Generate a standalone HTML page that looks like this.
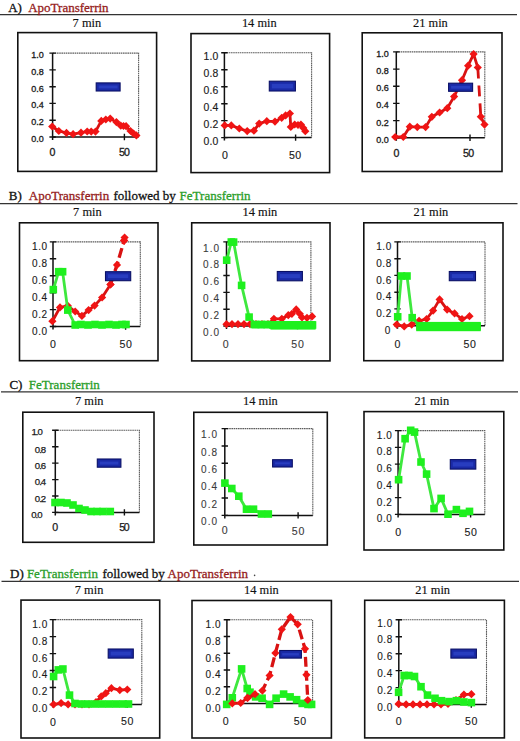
<!DOCTYPE html><html><head><meta charset="utf-8"><style>html,body{margin:0;padding:0;background:#fff;}svg{display:block}</style></head><body>
<svg width="520" height="741" viewBox="0 0 520 741">
<rect width="520" height="741" fill="#fff"/>
<path d="M0 14.6 H517" stroke="#333" stroke-width="1.25"/>
<text x="8.2" y="12.2" fill="#111" stroke="#111" stroke-width="0.3" style="font-size:13px;font-family:'Liberation Serif',serif">A)</text>
<text x="28.2" y="12.2" fill="#951c1c" stroke="#951c1c" stroke-width="0.3" style="font-size:13px;font-family:'Liberation Serif',serif">ApoTransferrin</text>
<path d="M0 203.7 H517.5" stroke="#333" stroke-width="1.25"/>
<text x="8.8" y="200.4" fill="#111" stroke="#111" stroke-width="0.3" style="font-size:13px;font-family:'Liberation Serif',serif">B)</text>
<text x="28.8" y="200.4" fill="#951c1c" stroke="#951c1c" stroke-width="0.3" style="font-size:13px;font-family:'Liberation Serif',serif">ApoTransferrin</text>
<text x="113.4" y="200.4" fill="#111" stroke="#111" stroke-width="0.3" style="font-size:13px;font-family:'Liberation Serif',serif">followed by</text>
<text x="179.6" y="200.4" fill="#2a9e2a" stroke="#2a9e2a" stroke-width="0.3" style="font-size:13px;font-family:'Liberation Serif',serif">FeTransferrin</text>
<path d="M1 391.8 H518" stroke="#333" stroke-width="1.25"/>
<text x="9.4" y="388.6" fill="#111" stroke="#111" stroke-width="0.3" style="font-size:13px;font-family:'Liberation Serif',serif">C)</text>
<text x="28.8" y="388.6" fill="#2a9e2a" stroke="#2a9e2a" stroke-width="0.3" style="font-size:13px;font-family:'Liberation Serif',serif">FeTransferrin</text>
<path d="M1.5 581.4 H519" stroke="#333" stroke-width="1.25"/>
<text x="10.0" y="577.6" fill="#111" stroke="#111" stroke-width="0.3" style="font-size:13px;font-family:'Liberation Serif',serif">D)</text>
<text x="26.9" y="577.6" fill="#2a9e2a" stroke="#2a9e2a" stroke-width="0.3" style="font-size:13px;font-family:'Liberation Serif',serif">FeTransferrin</text>
<text x="102.4" y="577.6" fill="#111" stroke="#111" stroke-width="0.3" style="font-size:13px;font-family:'Liberation Serif',serif">followed by</text>
<text x="167.6" y="577.6" fill="#951c1c" stroke="#951c1c" stroke-width="0.3" style="font-size:13px;font-family:'Liberation Serif',serif">ApoTransferrin</text>
<text x="72.6" y="26.6" fill="#111" stroke="#111" stroke-width="0.15" style="font-size:12.4px;font-family:'Liberation Serif',serif">7 min</text>
<text x="241.9" y="26.9" fill="#111" stroke="#111" stroke-width="0.15" style="font-size:12.4px;font-family:'Liberation Serif',serif">14 min</text>
<text x="413.0" y="26.8" fill="#111" stroke="#111" stroke-width="0.15" style="font-size:12.4px;font-family:'Liberation Serif',serif">21 min</text>
<text x="73.1" y="216.0" fill="#111" stroke="#111" stroke-width="0.15" style="font-size:12.4px;font-family:'Liberation Serif',serif">7 min</text>
<text x="242.5" y="216.0" fill="#111" stroke="#111" stroke-width="0.15" style="font-size:12.4px;font-family:'Liberation Serif',serif">14 min</text>
<text x="413.5" y="216.0" fill="#111" stroke="#111" stroke-width="0.15" style="font-size:12.4px;font-family:'Liberation Serif',serif">21 min</text>
<text x="75.0" y="404.8" fill="#111" stroke="#111" stroke-width="0.15" style="font-size:12.4px;font-family:'Liberation Serif',serif">7 min</text>
<text x="243.0" y="404.8" fill="#111" stroke="#111" stroke-width="0.15" style="font-size:12.4px;font-family:'Liberation Serif',serif">14 min</text>
<text x="414.4" y="404.8" fill="#111" stroke="#111" stroke-width="0.15" style="font-size:12.4px;font-family:'Liberation Serif',serif">21 min</text>
<text x="74.8" y="593.6" fill="#111" stroke="#111" stroke-width="0.15" style="font-size:12.4px;font-family:'Liberation Serif',serif">7 min</text>
<text x="244.0" y="593.6" fill="#111" stroke="#111" stroke-width="0.15" style="font-size:12.4px;font-family:'Liberation Serif',serif">14 min</text>
<text x="415.3" y="593.6" fill="#111" stroke="#111" stroke-width="0.15" style="font-size:12.4px;font-family:'Liberation Serif',serif">21 min</text>
<circle cx="254.6" cy="575.4" r="0.8" fill="#444"/>
<rect x="17.8" y="32.6" width="138.8" height="138.8" fill="none" stroke="#111" stroke-width="1.6"/>
<path d="M52.6 53.1 H138.6 V137.0" fill="none" stroke="#5c5c5c" stroke-width="1.1" stroke-dasharray="1.6 0.6"/>
<path d="M52.6 53.1 V140.0 M52.6 137.0 H138.6" fill="none" stroke="#111" stroke-width="1.5"/>
<path d="M49.4 137.0 H55.8 M49.4 120.2 H55.8 M49.4 103.4 H55.8 M49.4 86.7 H55.8 M49.4 69.9 H55.8 M49.4 53.1 H55.8 M124.4 133.8 V140.2" fill="none" stroke="#111" stroke-width="1.4"/>
<text x="43.8" y="142.0" text-anchor="end" fill="#1a1a1a" stroke="#1a1a1a" stroke-width="0.3" style="font-size:9px;font-family:'Liberation Sans',sans-serif">0.0</text>
<text x="43.8" y="125.2" text-anchor="end" fill="#1a1a1a" stroke="#1a1a1a" stroke-width="0.3" style="font-size:9px;font-family:'Liberation Sans',sans-serif">0.2</text>
<text x="43.8" y="108.4" text-anchor="end" fill="#1a1a1a" stroke="#1a1a1a" stroke-width="0.3" style="font-size:9px;font-family:'Liberation Sans',sans-serif">0.4</text>
<text x="43.8" y="91.7" text-anchor="end" fill="#1a1a1a" stroke="#1a1a1a" stroke-width="0.3" style="font-size:9px;font-family:'Liberation Sans',sans-serif">0.6</text>
<text x="43.8" y="74.9" text-anchor="end" fill="#1a1a1a" stroke="#1a1a1a" stroke-width="0.3" style="font-size:9px;font-family:'Liberation Sans',sans-serif">0.8</text>
<text x="43.8" y="58.1" text-anchor="end" fill="#1a1a1a" stroke="#1a1a1a" stroke-width="0.3" style="font-size:9px;font-family:'Liberation Sans',sans-serif">1.0</text>
<text x="52.2" y="155.8" text-anchor="middle" fill="#1a1a1a" stroke="#1a1a1a" stroke-width="0.3" style="font-size:10.6px;letter-spacing:-0.7px;font-family:'Liberation Sans',sans-serif">0</text>
<text x="124.1" y="155.8" text-anchor="middle" fill="#1a1a1a" stroke="#1a1a1a" stroke-width="0.3" style="font-size:10.6px;letter-spacing:-0.7px;font-family:'Liberation Sans',sans-serif">50</text>
<path d="M52.2,126.5 L58.8,131 L66.5,132.9 L73.1,134.2 L81,132.7 L87.2,131.5 L91.2,131.6 L95.5,131.6 L101.3,120.9 L105.8,119.5 L110.2,118.6 L116.4,122.1 L120.8,125.7 L123.5,126.0 L126.1,126.2 L130.5,131 L133.5,133.5 L136.4,135.4" fill="none" stroke="#d81212" stroke-width="2.8" stroke-linejoin="round"/>
<path d="M48.1 126.5 L52.2 122.4 L56.3 126.5 L52.2 130.6Z" fill="#f01414"/>
<path d="M54.7 131 L58.8 126.9 L62.9 131 L58.8 135.1Z" fill="#f01414"/>
<path d="M62.4 132.9 L66.5 128.8 L70.6 132.9 L66.5 137.0Z" fill="#f01414"/>
<path d="M69.0 134.2 L73.1 130.1 L77.2 134.2 L73.1 138.3Z" fill="#f01414"/>
<path d="M76.9 132.7 L81 128.6 L85.1 132.7 L81 136.8Z" fill="#f01414"/>
<path d="M83.1 131.5 L87.2 127.4 L91.3 131.5 L87.2 135.6Z" fill="#f01414"/>
<path d="M87.1 131.6 L91.2 127.5 L95.3 131.6 L91.2 135.7Z" fill="#f01414"/>
<path d="M91.4 131.6 L95.5 127.5 L99.6 131.6 L95.5 135.7Z" fill="#f01414"/>
<path d="M97.2 120.9 L101.3 116.8 L105.4 120.9 L101.3 125.0Z" fill="#f01414"/>
<path d="M101.7 119.5 L105.8 115.4 L109.9 119.5 L105.8 123.6Z" fill="#f01414"/>
<path d="M106.1 118.6 L110.2 114.5 L114.3 118.6 L110.2 122.7Z" fill="#f01414"/>
<path d="M112.3 122.1 L116.4 118.0 L120.5 122.1 L116.4 126.2Z" fill="#f01414"/>
<path d="M116.7 125.7 L120.8 121.6 L124.9 125.7 L120.8 129.8Z" fill="#f01414"/>
<path d="M119.4 126.0 L123.5 121.9 L127.6 126.0 L123.5 130.1Z" fill="#f01414"/>
<path d="M122.0 126.2 L126.1 122.1 L130.2 126.2 L126.1 130.3Z" fill="#f01414"/>
<path d="M126.4 131 L130.5 126.9 L134.6 131 L130.5 135.1Z" fill="#f01414"/>
<path d="M129.4 133.5 L133.5 129.4 L137.6 133.5 L133.5 137.6Z" fill="#f01414"/>
<path d="M132.3 135.4 L136.4 131.3 L140.5 135.4 L136.4 139.5Z" fill="#f01414"/>
<rect x="96.2" y="82.9" width="23.9" height="8.1" fill="#1a2aa6" stroke="#0a1066" stroke-width="1.1"/>
<rect x="98.7" y="85.5" width="18.9" height="2.9" fill="#3a55dd" opacity="0.45"/>
<rect x="191.0" y="33.6" width="138.6" height="139.0" fill="none" stroke="#111" stroke-width="1.6"/>
<path d="M224.4 52.8 H311.6 V137.6" fill="none" stroke="#5c5c5c" stroke-width="1.1" stroke-dasharray="1.6 0.6"/>
<path d="M224.4 52.8 V140.6 M224.4 137.6 H311.6" fill="none" stroke="#111" stroke-width="1.5"/>
<path d="M221.2 137.6 H227.6 M221.2 120.6 H227.6 M221.2 103.7 H227.6 M221.2 86.7 H227.6 M221.2 69.8 H227.6 M221.2 52.8 H227.6 M295.6 134.4 V140.8" fill="none" stroke="#111" stroke-width="1.4"/>
<text x="218.6" y="145.2" text-anchor="end" fill="#1a1a1a" stroke="#1a1a1a" stroke-width="0.15" style="font-size:10.4px;letter-spacing:0.25px;font-family:'Liberation Sans',sans-serif">0.0</text>
<text x="218.6" y="128.2" text-anchor="end" fill="#1a1a1a" stroke="#1a1a1a" stroke-width="0.15" style="font-size:10.4px;letter-spacing:0.25px;font-family:'Liberation Sans',sans-serif">0.2</text>
<text x="218.6" y="111.3" text-anchor="end" fill="#1a1a1a" stroke="#1a1a1a" stroke-width="0.15" style="font-size:10.4px;letter-spacing:0.25px;font-family:'Liberation Sans',sans-serif">0.4</text>
<text x="218.6" y="94.3" text-anchor="end" fill="#1a1a1a" stroke="#1a1a1a" stroke-width="0.15" style="font-size:10.4px;letter-spacing:0.25px;font-family:'Liberation Sans',sans-serif">0.6</text>
<text x="218.6" y="77.4" text-anchor="end" fill="#1a1a1a" stroke="#1a1a1a" stroke-width="0.15" style="font-size:10.4px;letter-spacing:0.25px;font-family:'Liberation Sans',sans-serif">0.8</text>
<text x="218.6" y="60.4" text-anchor="end" fill="#1a1a1a" stroke="#1a1a1a" stroke-width="0.15" style="font-size:10.4px;letter-spacing:0.25px;font-family:'Liberation Sans',sans-serif">1.0</text>
<text x="225.2" y="158.8" text-anchor="middle" fill="#1a1a1a" stroke="#1a1a1a" stroke-width="0.15" style="font-size:10.6px;letter-spacing:0.3px;font-family:'Liberation Sans',sans-serif">0</text>
<text x="295.3" y="158.8" text-anchor="middle" fill="#1a1a1a" stroke="#1a1a1a" stroke-width="0.15" style="font-size:10.6px;letter-spacing:0.3px;font-family:'Liberation Sans',sans-serif">50</text>
<path d="M224.7,125.4 L231.3,125.4 L239.3,128.5 L247.2,131.1 L253.9,130.7 L259.2,123.6 L266.8,121.2 L275,121.6 L281.7,117.8 L285.6,115.4 L289.9,113.5 L290.8,126.9 L294.7,124.5 L298,125 L300.9,124.5 L303.3,127.9 L305.3,131.2" fill="none" stroke="#d81212" stroke-width="2.8" stroke-linejoin="round"/>
<path d="M220.6 125.4 L224.7 121.3 L228.8 125.4 L224.7 129.5Z" fill="#f01414"/>
<path d="M227.2 125.4 L231.3 121.3 L235.4 125.4 L231.3 129.5Z" fill="#f01414"/>
<path d="M235.2 128.5 L239.3 124.4 L243.4 128.5 L239.3 132.6Z" fill="#f01414"/>
<path d="M243.1 131.1 L247.2 127.0 L251.3 131.1 L247.2 135.2Z" fill="#f01414"/>
<path d="M249.8 130.7 L253.9 126.6 L258.0 130.7 L253.9 134.8Z" fill="#f01414"/>
<path d="M255.1 123.6 L259.2 119.5 L263.3 123.6 L259.2 127.7Z" fill="#f01414"/>
<path d="M262.7 121.2 L266.8 117.1 L270.9 121.2 L266.8 125.3Z" fill="#f01414"/>
<path d="M270.9 121.6 L275 117.5 L279.1 121.6 L275 125.7Z" fill="#f01414"/>
<path d="M277.6 117.8 L281.7 113.7 L285.8 117.8 L281.7 121.9Z" fill="#f01414"/>
<path d="M281.5 115.4 L285.6 111.3 L289.7 115.4 L285.6 119.5Z" fill="#f01414"/>
<path d="M285.8 113.5 L289.9 109.4 L294.0 113.5 L289.9 117.6Z" fill="#f01414"/>
<path d="M286.7 126.9 L290.8 122.8 L294.9 126.9 L290.8 131.0Z" fill="#f01414"/>
<path d="M290.6 124.5 L294.7 120.4 L298.8 124.5 L294.7 128.6Z" fill="#f01414"/>
<path d="M293.9 125 L298 120.9 L302.1 125 L298 129.1Z" fill="#f01414"/>
<path d="M296.8 124.5 L300.9 120.4 L305.0 124.5 L300.9 128.6Z" fill="#f01414"/>
<path d="M299.2 127.9 L303.3 123.8 L307.4 127.9 L303.3 132.0Z" fill="#f01414"/>
<path d="M301.2 131.2 L305.3 127.1 L309.4 131.2 L305.3 135.3Z" fill="#f01414"/>
<rect x="269.3" y="81.2" width="26.1" height="9.8" fill="#1a2aa6" stroke="#0a1066" stroke-width="1.1"/>
<rect x="271.8" y="83.8" width="21.1" height="4.6" fill="#3a55dd" opacity="0.45"/>
<rect x="362.2" y="32.8" width="139.8" height="138.7" fill="none" stroke="#111" stroke-width="1.6"/>
<path d="M396.3 51.9 H484.8 V137.8" fill="none" stroke="#5c5c5c" stroke-width="1.1" stroke-dasharray="1.6 0.6"/>
<path d="M396.3 51.9 V140.8 M396.3 137.8 H484.8" fill="none" stroke="#111" stroke-width="1.5"/>
<path d="M393.1 137.8 H399.5 M393.1 120.6 H399.5 M393.1 103.4 H399.5 M393.1 86.3 H399.5 M393.1 69.1 H399.5 M393.1 51.9 H399.5 M470.0 134.6 V141.0" fill="none" stroke="#111" stroke-width="1.4"/>
<text x="388.8" y="142.8" text-anchor="end" fill="#1a1a1a" stroke="#1a1a1a" stroke-width="0.3" style="font-size:9px;font-family:'Liberation Sans',sans-serif">0.0</text>
<text x="388.8" y="125.6" text-anchor="end" fill="#1a1a1a" stroke="#1a1a1a" stroke-width="0.3" style="font-size:9px;font-family:'Liberation Sans',sans-serif">0.2</text>
<text x="388.8" y="108.4" text-anchor="end" fill="#1a1a1a" stroke="#1a1a1a" stroke-width="0.3" style="font-size:9px;font-family:'Liberation Sans',sans-serif">0.4</text>
<text x="388.8" y="91.3" text-anchor="end" fill="#1a1a1a" stroke="#1a1a1a" stroke-width="0.3" style="font-size:9px;font-family:'Liberation Sans',sans-serif">0.6</text>
<text x="388.8" y="74.1" text-anchor="end" fill="#1a1a1a" stroke="#1a1a1a" stroke-width="0.3" style="font-size:9px;font-family:'Liberation Sans',sans-serif">0.8</text>
<text x="388.8" y="56.9" text-anchor="end" fill="#1a1a1a" stroke="#1a1a1a" stroke-width="0.3" style="font-size:9px;font-family:'Liberation Sans',sans-serif">1.0</text>
<text x="396.1" y="156.8" text-anchor="middle" fill="#1a1a1a" stroke="#1a1a1a" stroke-width="0.3" style="font-size:10.6px;letter-spacing:-0.7px;font-family:'Liberation Sans',sans-serif">0</text>
<text x="468.3" y="156.8" text-anchor="middle" fill="#1a1a1a" stroke="#1a1a1a" stroke-width="0.3" style="font-size:10.6px;letter-spacing:-0.7px;font-family:'Liberation Sans',sans-serif">50</text>
<path d="M395.2,137 L403.3,137 L409.8,126.7 L417.3,127.1 L425.6,127.1 L431.8,116.8 L439.6,112.5 L447.3,108.2 L454.1,96.6 L462,80.2 L468.1,65.7 L473.6,54.1 L477.8,67.5" fill="none" stroke="#d81212" stroke-width="2.8" stroke-linejoin="round"/>
<path d="M391.1 137 L395.2 132.9 L399.3 137 L395.2 141.1Z" fill="#f01414"/>
<path d="M399.2 137 L403.3 132.9 L407.4 137 L403.3 141.1Z" fill="#f01414"/>
<path d="M405.7 126.7 L409.8 122.6 L413.9 126.7 L409.8 130.8Z" fill="#f01414"/>
<path d="M413.2 127.1 L417.3 123.0 L421.4 127.1 L417.3 131.2Z" fill="#f01414"/>
<path d="M421.5 127.1 L425.6 123.0 L429.7 127.1 L425.6 131.2Z" fill="#f01414"/>
<path d="M427.7 116.8 L431.8 112.7 L435.9 116.8 L431.8 120.9Z" fill="#f01414"/>
<path d="M435.5 112.5 L439.6 108.4 L443.7 112.5 L439.6 116.6Z" fill="#f01414"/>
<path d="M443.2 108.2 L447.3 104.1 L451.4 108.2 L447.3 112.3Z" fill="#f01414"/>
<path d="M450.0 96.6 L454.1 92.5 L458.2 96.6 L454.1 100.7Z" fill="#f01414"/>
<path d="M457.9 80.2 L462 76.1 L466.1 80.2 L462 84.3Z" fill="#f01414"/>
<path d="M464.0 65.7 L468.1 61.6 L472.2 65.7 L468.1 69.8Z" fill="#f01414"/>
<path d="M469.5 54.1 L473.6 50.0 L477.7 54.1 L473.6 58.2Z" fill="#f01414"/>
<path d="M473.7 67.5 L477.8 63.4 L481.9 67.5 L477.8 71.6Z" fill="#f01414"/>
<path d="M477.8,67.5 L480.8,116.7" fill="none" stroke="#d81212" stroke-width="2.8" stroke-linejoin="round" stroke-dasharray="11 7"/>
<path d="M480.8,116.7 L484.5,124.6" fill="none" stroke="#d81212" stroke-width="2.8" stroke-linejoin="round"/>
<path d="M476.7 116.7 L480.8 112.6 L484.9 116.7 L480.8 120.8Z" fill="#f01414"/>
<path d="M480.4 124.6 L484.5 120.5 L488.6 124.6 L484.5 128.7Z" fill="#f01414"/>
<rect x="448.6" y="83.2" width="24.0" height="8.1" fill="#1a2aa6" stroke="#0a1066" stroke-width="1.1"/>
<rect x="451.1" y="85.8" width="19.0" height="2.9" fill="#3a55dd" opacity="0.45"/>
<rect x="19.5" y="222.8" width="138.5" height="137.9" fill="none" stroke="#111" stroke-width="1.6"/>
<path d="M53.0 241.9 H140.3 V326.5" fill="none" stroke="#5c5c5c" stroke-width="1.1" stroke-dasharray="1.6 0.6"/>
<path d="M53.0 241.9 V329.5 M53.0 326.5 H140.3" fill="none" stroke="#111" stroke-width="1.5"/>
<path d="M49.8 326.5 H56.2 M49.8 309.6 H56.2 M49.8 292.7 H56.2 M49.8 275.7 H56.2 M49.8 258.8 H56.2 M49.8 241.9 H56.2 M125.6 323.3 V329.7" fill="none" stroke="#111" stroke-width="1.4"/>
<text x="47.7" y="334.5" text-anchor="end" fill="#1a1a1a" stroke="#1a1a1a" stroke-width="0.12" style="font-size:10px;letter-spacing:0.6px;font-family:'Liberation Sans',sans-serif">0.0</text>
<text x="47.7" y="317.6" text-anchor="end" fill="#1a1a1a" stroke="#1a1a1a" stroke-width="0.12" style="font-size:10px;letter-spacing:0.6px;font-family:'Liberation Sans',sans-serif">0.2</text>
<text x="47.7" y="300.7" text-anchor="end" fill="#1a1a1a" stroke="#1a1a1a" stroke-width="0.12" style="font-size:10px;letter-spacing:0.6px;font-family:'Liberation Sans',sans-serif">0.4</text>
<text x="47.7" y="283.7" text-anchor="end" fill="#1a1a1a" stroke="#1a1a1a" stroke-width="0.12" style="font-size:10px;letter-spacing:0.6px;font-family:'Liberation Sans',sans-serif">0.6</text>
<text x="47.7" y="266.8" text-anchor="end" fill="#1a1a1a" stroke="#1a1a1a" stroke-width="0.12" style="font-size:10px;letter-spacing:0.6px;font-family:'Liberation Sans',sans-serif">0.8</text>
<text x="47.7" y="249.9" text-anchor="end" fill="#1a1a1a" stroke="#1a1a1a" stroke-width="0.12" style="font-size:10px;letter-spacing:0.6px;font-family:'Liberation Sans',sans-serif">1.0</text>
<text x="53.3" y="348.2" text-anchor="middle" fill="#1a1a1a" stroke="#1a1a1a" stroke-width="0.12" style="font-size:10.6px;letter-spacing:0.6px;font-family:'Liberation Sans',sans-serif">0</text>
<text x="125.9" y="348.2" text-anchor="middle" fill="#1a1a1a" stroke="#1a1a1a" stroke-width="0.12" style="font-size:10.6px;letter-spacing:0.6px;font-family:'Liberation Sans',sans-serif">50</text>
<path d="M52.4,321.2 L60,307.4 L67.8,305.8 L75.2,311.5 L81.9,315.9 L88.6,310.1 L94.6,305.6 L102.1,297.5 L110.5,284.4" fill="none" stroke="#d81212" stroke-width="2.8" stroke-linejoin="round"/>
<path d="M48.3 321.2 L52.4 317.1 L56.5 321.2 L52.4 325.3Z" fill="#f01414"/>
<path d="M55.9 307.4 L60 303.3 L64.1 307.4 L60 311.5Z" fill="#f01414"/>
<path d="M63.7 305.8 L67.8 301.7 L71.9 305.8 L67.8 309.9Z" fill="#f01414"/>
<path d="M71.1 311.5 L75.2 307.4 L79.3 311.5 L75.2 315.6Z" fill="#f01414"/>
<path d="M77.8 315.9 L81.9 311.8 L86.0 315.9 L81.9 320.0Z" fill="#f01414"/>
<path d="M84.5 310.1 L88.6 306.0 L92.7 310.1 L88.6 314.2Z" fill="#f01414"/>
<path d="M90.5 305.6 L94.6 301.5 L98.7 305.6 L94.6 309.7Z" fill="#f01414"/>
<path d="M98.0 297.5 L102.1 293.4 L106.2 297.5 L102.1 301.6Z" fill="#f01414"/>
<path d="M106.4 284.4 L110.5 280.3 L114.6 284.4 L110.5 288.5Z" fill="#f01414"/>
<path d="M110.5,284.4 L117,264.9 L124.1,240.6" fill="none" stroke="#d81212" stroke-width="3.3" stroke-linejoin="round" stroke-dasharray="10 4"/>
<path d="M106.4 284.4 L110.5 280.3 L114.6 284.4 L110.5 288.5Z" fill="#f01414"/>
<path d="M112.9 264.9 L117 260.8 L121.1 264.9 L117 269.0Z" fill="#f01414"/>
<path d="M120.0 240.6 L124.1 236.5 L128.2 240.6 L124.1 244.7Z" fill="#f01414"/>
<path d="M124.1,240.6 L124.6,237.5" fill="none" stroke="#d81212" stroke-width="2.8" stroke-linejoin="round"/>
<path d="M120.0 240.6 L124.1 236.5 L128.2 240.6 L124.1 244.7Z" fill="#f01414"/>
<path d="M120.5 237.5 L124.6 233.4 L128.7 237.5 L124.6 241.6Z" fill="#f01414"/>
<path d="M53.3,289.6 L58.7,271.7 L62.6,271.7 L67.8,310.1 L75.2,325 L81,324.5 L88,325 L95,324.5 L102,325 L109,324.5 L116,325 L122,324.5 L126,324.5" fill="none" stroke="#3ee83e" stroke-width="2.8" stroke-linejoin="round"/>
<rect x="49.5" y="285.8" width="7.6" height="7.6" fill="#1ef01e"/>
<rect x="54.9" y="267.9" width="7.6" height="7.6" fill="#1ef01e"/>
<rect x="58.8" y="267.9" width="7.6" height="7.6" fill="#1ef01e"/>
<rect x="64.0" y="306.3" width="7.6" height="7.6" fill="#1ef01e"/>
<rect x="71.4" y="321.2" width="7.6" height="7.6" fill="#1ef01e"/>
<rect x="77.2" y="320.7" width="7.6" height="7.6" fill="#1ef01e"/>
<rect x="84.2" y="321.2" width="7.6" height="7.6" fill="#1ef01e"/>
<rect x="91.2" y="320.7" width="7.6" height="7.6" fill="#1ef01e"/>
<rect x="98.2" y="321.2" width="7.6" height="7.6" fill="#1ef01e"/>
<rect x="105.2" y="320.7" width="7.6" height="7.6" fill="#1ef01e"/>
<rect x="112.2" y="321.2" width="7.6" height="7.6" fill="#1ef01e"/>
<rect x="118.2" y="320.7" width="7.6" height="7.6" fill="#1ef01e"/>
<rect x="122.2" y="320.7" width="7.6" height="7.6" fill="#1ef01e"/>
<rect x="105.5" y="271.7" width="25.2" height="9.0" fill="#1a2aa6" stroke="#0a1066" stroke-width="1.1"/>
<rect x="108.0" y="274.3" width="20.2" height="3.8" fill="#3a55dd" opacity="0.45"/>
<rect x="191.7" y="222.8" width="138.3" height="138.1" fill="none" stroke="#111" stroke-width="1.6"/>
<path d="M226.5 241.9 H310.9 V326.0" fill="none" stroke="#5c5c5c" stroke-width="1.1" stroke-dasharray="1.6 0.6"/>
<path d="M226.5 241.9 V329.0 M226.5 326.0 H310.9" fill="none" stroke="#111" stroke-width="1.5"/>
<path d="M223.3 326.0 H229.7 M223.3 309.2 H229.7 M223.3 292.4 H229.7 M223.3 275.5 H229.7 M223.3 258.7 H229.7 M223.3 241.9 H229.7 M297.5 322.8 V329.2" fill="none" stroke="#111" stroke-width="1.4"/>
<text x="220.0" y="335.7" text-anchor="end" fill="#3a3a3a" stroke="#3a3a3a" stroke-width="0.1" style="font-size:10px;letter-spacing:1.0px;font-family:'Liberation Sans',sans-serif">0.0</text>
<text x="220.0" y="318.9" text-anchor="end" fill="#3a3a3a" stroke="#3a3a3a" stroke-width="0.1" style="font-size:10px;letter-spacing:1.0px;font-family:'Liberation Sans',sans-serif">0.2</text>
<text x="220.0" y="302.1" text-anchor="end" fill="#3a3a3a" stroke="#3a3a3a" stroke-width="0.1" style="font-size:10px;letter-spacing:1.0px;font-family:'Liberation Sans',sans-serif">0.4</text>
<text x="220.0" y="285.2" text-anchor="end" fill="#3a3a3a" stroke="#3a3a3a" stroke-width="0.1" style="font-size:10px;letter-spacing:1.0px;font-family:'Liberation Sans',sans-serif">0.6</text>
<text x="220.0" y="268.4" text-anchor="end" fill="#3a3a3a" stroke="#3a3a3a" stroke-width="0.1" style="font-size:10px;letter-spacing:1.0px;font-family:'Liberation Sans',sans-serif">0.8</text>
<text x="220.0" y="251.6" text-anchor="end" fill="#3a3a3a" stroke="#3a3a3a" stroke-width="0.1" style="font-size:10px;letter-spacing:1.0px;font-family:'Liberation Sans',sans-serif">1.0</text>
<text x="226.1" y="348.2" text-anchor="middle" fill="#3a3a3a" stroke="#3a3a3a" stroke-width="0.1" style="font-size:10.6px;letter-spacing:0.8px;font-family:'Liberation Sans',sans-serif">0</text>
<text x="297.9" y="348.2" text-anchor="middle" fill="#3a3a3a" stroke="#3a3a3a" stroke-width="0.1" style="font-size:10.6px;letter-spacing:0.8px;font-family:'Liberation Sans',sans-serif">50</text>
<path d="M226.5,324.2 L232,324.2 L238,324.2 L244,324.2 L250,324.2 L256,324.2 L262,324.2 L268,324.2 L273.9,318.8 L281.8,318.8 L288.3,315.2 L291.9,313.8 L296.2,309.4 L299.8,313.8 L302,317.4 L307,317.8 L312.1,316.4" fill="none" stroke="#d81212" stroke-width="2.8" stroke-linejoin="round"/>
<path d="M222.4 324.2 L226.5 320.1 L230.6 324.2 L226.5 328.3Z" fill="#f01414"/>
<path d="M227.9 324.2 L232 320.1 L236.1 324.2 L232 328.3Z" fill="#f01414"/>
<path d="M233.9 324.2 L238 320.1 L242.1 324.2 L238 328.3Z" fill="#f01414"/>
<path d="M239.9 324.2 L244 320.1 L248.1 324.2 L244 328.3Z" fill="#f01414"/>
<path d="M245.9 324.2 L250 320.1 L254.1 324.2 L250 328.3Z" fill="#f01414"/>
<path d="M251.9 324.2 L256 320.1 L260.1 324.2 L256 328.3Z" fill="#f01414"/>
<path d="M257.9 324.2 L262 320.1 L266.1 324.2 L262 328.3Z" fill="#f01414"/>
<path d="M263.9 324.2 L268 320.1 L272.1 324.2 L268 328.3Z" fill="#f01414"/>
<path d="M269.8 318.8 L273.9 314.7 L278.0 318.8 L273.9 322.9Z" fill="#f01414"/>
<path d="M277.7 318.8 L281.8 314.7 L285.9 318.8 L281.8 322.9Z" fill="#f01414"/>
<path d="M284.2 315.2 L288.3 311.1 L292.4 315.2 L288.3 319.3Z" fill="#f01414"/>
<path d="M287.8 313.8 L291.9 309.7 L296.0 313.8 L291.9 317.9Z" fill="#f01414"/>
<path d="M292.1 309.4 L296.2 305.3 L300.3 309.4 L296.2 313.5Z" fill="#f01414"/>
<path d="M295.7 313.8 L299.8 309.7 L303.9 313.8 L299.8 317.9Z" fill="#f01414"/>
<path d="M297.9 317.4 L302 313.3 L306.1 317.4 L302 321.5Z" fill="#f01414"/>
<path d="M302.9 317.8 L307 313.7 L311.1 317.8 L307 321.9Z" fill="#f01414"/>
<path d="M308.0 316.4 L312.1 312.3 L316.2 316.4 L312.1 320.5Z" fill="#f01414"/>
<path d="M226.7,260.2 L231.3,242.0 L233.6,242.1 L241.6,285.4 L249.1,317.1 L255.6,324.5 L261.2,324.5 L267,324.5 L273,325 L279,325 L285,325 L291,325 L297,325 L303,325 L309,325 L312.5,325" fill="none" stroke="#3ee83e" stroke-width="2.8" stroke-linejoin="round"/>
<rect x="222.9" y="256.4" width="7.6" height="7.6" fill="#1ef01e"/>
<rect x="227.5" y="238.2" width="7.6" height="7.6" fill="#1ef01e"/>
<rect x="229.8" y="238.3" width="7.6" height="7.6" fill="#1ef01e"/>
<rect x="237.8" y="281.6" width="7.6" height="7.6" fill="#1ef01e"/>
<rect x="245.3" y="313.3" width="7.6" height="7.6" fill="#1ef01e"/>
<rect x="251.8" y="320.7" width="7.6" height="7.6" fill="#1ef01e"/>
<rect x="257.4" y="320.7" width="7.6" height="7.6" fill="#1ef01e"/>
<rect x="263.2" y="320.7" width="7.6" height="7.6" fill="#1ef01e"/>
<rect x="269.2" y="321.2" width="7.6" height="7.6" fill="#1ef01e"/>
<rect x="275.2" y="321.2" width="7.6" height="7.6" fill="#1ef01e"/>
<rect x="281.2" y="321.2" width="7.6" height="7.6" fill="#1ef01e"/>
<rect x="287.2" y="321.2" width="7.6" height="7.6" fill="#1ef01e"/>
<rect x="293.2" y="321.2" width="7.6" height="7.6" fill="#1ef01e"/>
<rect x="299.2" y="321.2" width="7.6" height="7.6" fill="#1ef01e"/>
<rect x="305.2" y="321.2" width="7.6" height="7.6" fill="#1ef01e"/>
<rect x="308.7" y="321.2" width="7.6" height="7.6" fill="#1ef01e"/>
<rect x="270.5" y="321.0" width="45.1" height="8.6" fill="#1ef01e"/>
<rect x="250.5" y="321.5" width="20.5" height="6.8" fill="#1ef01e"/>
<rect x="277.3" y="271.5" width="25.1" height="9.3" fill="#1a2aa6" stroke="#0a1066" stroke-width="1.1"/>
<rect x="279.8" y="274.1" width="20.1" height="4.1" fill="#3a55dd" opacity="0.45"/>
<rect x="363.8" y="222.8" width="139.2" height="137.9" fill="none" stroke="#111" stroke-width="1.6"/>
<path d="M397.5 241.9 H485.0 V325.7" fill="none" stroke="#5c5c5c" stroke-width="1.1" stroke-dasharray="1.6 0.6"/>
<path d="M397.5 241.9 V328.7 M397.5 325.7 H485.0" fill="none" stroke="#111" stroke-width="1.5"/>
<path d="M394.3 325.7 H400.7 M394.3 308.9 H400.7 M394.3 292.2 H400.7 M394.3 275.4 H400.7 M394.3 258.7 H400.7 M394.3 241.9 H400.7 M469.8 322.5 V328.9" fill="none" stroke="#111" stroke-width="1.4"/>
<text x="390.8" y="333.9" text-anchor="end" fill="#1a1a1a" stroke="#1a1a1a" stroke-width="0.12" style="font-size:10px;letter-spacing:0.6px;font-family:'Liberation Sans',sans-serif">0</text>
<text x="391.9" y="317.1" text-anchor="end" fill="#1a1a1a" stroke="#1a1a1a" stroke-width="0.12" style="font-size:10px;letter-spacing:0.6px;font-family:'Liberation Sans',sans-serif">0.2</text>
<text x="391.9" y="300.4" text-anchor="end" fill="#1a1a1a" stroke="#1a1a1a" stroke-width="0.12" style="font-size:10px;letter-spacing:0.6px;font-family:'Liberation Sans',sans-serif">0.4</text>
<text x="391.9" y="283.6" text-anchor="end" fill="#1a1a1a" stroke="#1a1a1a" stroke-width="0.12" style="font-size:10px;letter-spacing:0.6px;font-family:'Liberation Sans',sans-serif">0.6</text>
<text x="391.9" y="266.9" text-anchor="end" fill="#1a1a1a" stroke="#1a1a1a" stroke-width="0.12" style="font-size:10px;letter-spacing:0.6px;font-family:'Liberation Sans',sans-serif">0.8</text>
<text x="391.9" y="250.1" text-anchor="end" fill="#1a1a1a" stroke="#1a1a1a" stroke-width="0.12" style="font-size:10px;letter-spacing:0.6px;font-family:'Liberation Sans',sans-serif">1.0</text>
<text x="397.8" y="348.2" text-anchor="middle" fill="#1a1a1a" stroke="#1a1a1a" stroke-width="0.12" style="font-size:10.6px;letter-spacing:0.6px;font-family:'Liberation Sans',sans-serif">0</text>
<text x="470.1" y="348.2" text-anchor="middle" fill="#1a1a1a" stroke="#1a1a1a" stroke-width="0.12" style="font-size:10.6px;letter-spacing:0.6px;font-family:'Liberation Sans',sans-serif">50</text>
<path d="M396.7,324.6 L404.2,326.4 L411.7,324.6 L419.1,320.8 L426.6,319 L433.1,310.6 L439.6,299.4 L447.1,309.6 L454.6,313.4 L462,319 L469.5,316.2" fill="none" stroke="#d81212" stroke-width="2.8" stroke-linejoin="round"/>
<path d="M392.6 324.6 L396.7 320.5 L400.8 324.6 L396.7 328.7Z" fill="#f01414"/>
<path d="M400.1 326.4 L404.2 322.3 L408.3 326.4 L404.2 330.5Z" fill="#f01414"/>
<path d="M407.6 324.6 L411.7 320.5 L415.8 324.6 L411.7 328.7Z" fill="#f01414"/>
<path d="M415.0 320.8 L419.1 316.7 L423.2 320.8 L419.1 324.9Z" fill="#f01414"/>
<path d="M422.5 319 L426.6 314.9 L430.7 319 L426.6 323.1Z" fill="#f01414"/>
<path d="M429.0 310.6 L433.1 306.5 L437.2 310.6 L433.1 314.7Z" fill="#f01414"/>
<path d="M435.5 299.4 L439.6 295.3 L443.7 299.4 L439.6 303.5Z" fill="#f01414"/>
<path d="M443.0 309.6 L447.1 305.5 L451.2 309.6 L447.1 313.7Z" fill="#f01414"/>
<path d="M450.5 313.4 L454.6 309.3 L458.7 313.4 L454.6 317.5Z" fill="#f01414"/>
<path d="M457.9 319 L462 314.9 L466.1 319 L462 323.1Z" fill="#f01414"/>
<path d="M465.4 316.2 L469.5 312.1 L473.6 316.2 L469.5 320.3Z" fill="#f01414"/>
<path d="M397.7,316.8 L401.4,276 L407,276 L412.2,317.7 L420,326.5 L426,326.5 L433,326.5 L440,326.5 L447,326.5 L454,326.5 L461,326.5 L468,326.5 L475,326.5 L477,326.5" fill="none" stroke="#3ee83e" stroke-width="2.8" stroke-linejoin="round"/>
<rect x="393.9" y="313.0" width="7.6" height="7.6" fill="#1ef01e"/>
<rect x="397.6" y="272.2" width="7.6" height="7.6" fill="#1ef01e"/>
<rect x="403.2" y="272.2" width="7.6" height="7.6" fill="#1ef01e"/>
<rect x="408.4" y="313.9" width="7.6" height="7.6" fill="#1ef01e"/>
<rect x="416.2" y="322.7" width="7.6" height="7.6" fill="#1ef01e"/>
<rect x="422.2" y="322.7" width="7.6" height="7.6" fill="#1ef01e"/>
<rect x="429.2" y="322.7" width="7.6" height="7.6" fill="#1ef01e"/>
<rect x="436.2" y="322.7" width="7.6" height="7.6" fill="#1ef01e"/>
<rect x="443.2" y="322.7" width="7.6" height="7.6" fill="#1ef01e"/>
<rect x="450.2" y="322.7" width="7.6" height="7.6" fill="#1ef01e"/>
<rect x="457.2" y="322.7" width="7.6" height="7.6" fill="#1ef01e"/>
<rect x="464.2" y="322.7" width="7.6" height="7.6" fill="#1ef01e"/>
<rect x="471.2" y="322.7" width="7.6" height="7.6" fill="#1ef01e"/>
<rect x="473.2" y="322.7" width="7.6" height="7.6" fill="#1ef01e"/>
<rect x="416.2" y="321.9" width="64.6" height="9.3" fill="#1ef01e"/>
<rect x="449.3" y="271.5" width="26.2" height="9.2" fill="#1a2aa6" stroke="#0a1066" stroke-width="1.1"/>
<rect x="451.8" y="274.1" width="21.2" height="4.0" fill="#3a55dd" opacity="0.45"/>
<rect x="22.8" y="412.2" width="131.2" height="130.1" fill="none" stroke="#111" stroke-width="1.6"/>
<path d="M55.3 430.3 H139.4 V512.4" fill="none" stroke="#5c5c5c" stroke-width="1.1" stroke-dasharray="1.6 0.6"/>
<path d="M55.3 430.3 V515.4 M55.3 512.4 H139.4" fill="none" stroke="#111" stroke-width="1.5"/>
<path d="M52.1 512.4 H58.5 M52.1 496.0 H58.5 M52.1 479.6 H58.5 M52.1 463.1 H58.5 M52.1 446.7 H58.5 M52.1 430.3 H58.5 M124.4 509.2 V515.6" fill="none" stroke="#111" stroke-width="1.4"/>
<text x="41.6" y="517.9" text-anchor="end" fill="#1a1a1a" stroke="#1a1a1a" stroke-width="0.25" style="font-size:9.6px;letter-spacing:-1.0px;font-family:'Liberation Sans',sans-serif">0.0</text>
<text x="45.2" y="501.9" text-anchor="end" fill="#1a1a1a" stroke="#1a1a1a" stroke-width="0.25" style="font-size:9.6px;letter-spacing:-1.0px;font-family:'Liberation Sans',sans-serif">0.2</text>
<text x="45.2" y="484.9" text-anchor="end" fill="#1a1a1a" stroke="#1a1a1a" stroke-width="0.25" style="font-size:9.6px;letter-spacing:-1.0px;font-family:'Liberation Sans',sans-serif">0.4</text>
<text x="45.2" y="469.4" text-anchor="end" fill="#1a1a1a" stroke="#1a1a1a" stroke-width="0.25" style="font-size:9.6px;letter-spacing:-1.0px;font-family:'Liberation Sans',sans-serif">0.6</text>
<text x="45.2" y="452.7" text-anchor="end" fill="#1a1a1a" stroke="#1a1a1a" stroke-width="0.25" style="font-size:9.6px;letter-spacing:-1.0px;font-family:'Liberation Sans',sans-serif">0.8</text>
<text x="41.8" y="434.6" text-anchor="end" fill="#1a1a1a" stroke="#1a1a1a" stroke-width="0.25" style="font-size:9.6px;letter-spacing:-1.0px;font-family:'Liberation Sans',sans-serif">1.0</text>
<text x="54.6" y="530.8" text-anchor="middle" fill="#1a1a1a" stroke="#1a1a1a" stroke-width="0.25" style="font-size:10.6px;letter-spacing:-1.3px;font-family:'Liberation Sans',sans-serif">0</text>
<text x="123.8" y="531.3" text-anchor="middle" fill="#1a1a1a" stroke="#1a1a1a" stroke-width="0.25" style="font-size:10.6px;letter-spacing:-1.3px;font-family:'Liberation Sans',sans-serif">50</text>
<path d="M55,502.5 L61,502.5 L67,503 L73,505 L79,508.5 L85,510 L91,511.5 L97,511.5 L103,511.5 L110.3,511.5" fill="none" stroke="#3ee83e" stroke-width="2.8" stroke-linejoin="round"/>
<rect x="51.2" y="498.7" width="7.6" height="7.6" fill="#1ef01e"/>
<rect x="57.2" y="498.7" width="7.6" height="7.6" fill="#1ef01e"/>
<rect x="63.2" y="499.2" width="7.6" height="7.6" fill="#1ef01e"/>
<rect x="69.2" y="501.2" width="7.6" height="7.6" fill="#1ef01e"/>
<rect x="75.2" y="504.7" width="7.6" height="7.6" fill="#1ef01e"/>
<rect x="81.2" y="506.2" width="7.6" height="7.6" fill="#1ef01e"/>
<rect x="87.2" y="507.7" width="7.6" height="7.6" fill="#1ef01e"/>
<rect x="93.2" y="507.7" width="7.6" height="7.6" fill="#1ef01e"/>
<rect x="99.2" y="507.7" width="7.6" height="7.6" fill="#1ef01e"/>
<rect x="106.5" y="507.7" width="7.6" height="7.6" fill="#1ef01e"/>
<rect x="97.3" y="459.0" width="23.6" height="8.2" fill="#1a2aa6" stroke="#0a1066" stroke-width="1.1"/>
<rect x="99.8" y="461.6" width="18.6" height="3.0" fill="#3a55dd" opacity="0.45"/>
<rect x="193.8" y="412.3" width="133.5" height="132.7" fill="none" stroke="#111" stroke-width="1.6"/>
<path d="M224.8 428.6 H312.8 V515.4" fill="none" stroke="#5c5c5c" stroke-width="1.1" stroke-dasharray="1.6 0.6"/>
<path d="M224.8 428.6 V518.4 M224.8 515.4 H312.8" fill="none" stroke="#111" stroke-width="1.5"/>
<path d="M221.6 515.4 H228.0 M221.6 498.0 H228.0 M221.6 480.7 H228.0 M221.6 463.3 H228.0 M221.6 446.0 H228.0 M221.6 428.6 H228.0 M298.1 512.2 V518.6" fill="none" stroke="#111" stroke-width="1.4"/>
<text x="218.0" y="525.1" text-anchor="end" fill="#3a3a3a" stroke="#3a3a3a" stroke-width="0.1" style="font-size:10px;letter-spacing:1.0px;font-family:'Liberation Sans',sans-serif">0.0</text>
<text x="218.0" y="507.7" text-anchor="end" fill="#3a3a3a" stroke="#3a3a3a" stroke-width="0.1" style="font-size:10px;letter-spacing:1.0px;font-family:'Liberation Sans',sans-serif">0.2</text>
<text x="218.0" y="490.4" text-anchor="end" fill="#3a3a3a" stroke="#3a3a3a" stroke-width="0.1" style="font-size:10px;letter-spacing:1.0px;font-family:'Liberation Sans',sans-serif">0.4</text>
<text x="218.0" y="473.0" text-anchor="end" fill="#3a3a3a" stroke="#3a3a3a" stroke-width="0.1" style="font-size:10px;letter-spacing:1.0px;font-family:'Liberation Sans',sans-serif">0.6</text>
<text x="218.0" y="455.7" text-anchor="end" fill="#3a3a3a" stroke="#3a3a3a" stroke-width="0.1" style="font-size:10px;letter-spacing:1.0px;font-family:'Liberation Sans',sans-serif">0.8</text>
<text x="218.0" y="438.3" text-anchor="end" fill="#3a3a3a" stroke="#3a3a3a" stroke-width="0.1" style="font-size:10px;letter-spacing:1.0px;font-family:'Liberation Sans',sans-serif">1.0</text>
<text x="225.2" y="534.4" text-anchor="middle" fill="#3a3a3a" stroke="#3a3a3a" stroke-width="0.1" style="font-size:10.6px;letter-spacing:0.8px;font-family:'Liberation Sans',sans-serif">0</text>
<text x="298.5" y="534.8" text-anchor="middle" fill="#3a3a3a" stroke="#3a3a3a" stroke-width="0.1" style="font-size:10.6px;letter-spacing:0.8px;font-family:'Liberation Sans',sans-serif">50</text>
<path d="M224.9,483.1 L231.8,488.5 L238.8,496.2 L246.5,509.2 L253.5,509.2 L261.5,514 L268.3,514" fill="none" stroke="#3ee83e" stroke-width="2.8" stroke-linejoin="round"/>
<rect x="221.1" y="479.3" width="7.6" height="7.6" fill="#1ef01e"/>
<rect x="228.0" y="484.7" width="7.6" height="7.6" fill="#1ef01e"/>
<rect x="235.0" y="492.4" width="7.6" height="7.6" fill="#1ef01e"/>
<rect x="242.7" y="505.4" width="7.6" height="7.6" fill="#1ef01e"/>
<rect x="249.7" y="505.4" width="7.6" height="7.6" fill="#1ef01e"/>
<rect x="257.7" y="510.2" width="7.6" height="7.6" fill="#1ef01e"/>
<rect x="264.5" y="510.2" width="7.6" height="7.6" fill="#1ef01e"/>
<rect x="272.6" y="459.7" width="19.7" height="7.3" fill="#1a2aa6" stroke="#0a1066" stroke-width="1.1"/>
<rect x="275.1" y="462.3" width="14.7" height="2.1" fill="#3a55dd" opacity="0.45"/>
<rect x="364.0" y="411.6" width="139.8" height="138.4" fill="none" stroke="#111" stroke-width="1.6"/>
<path d="M398.1 430.6 H484.8 V514.4" fill="none" stroke="#5c5c5c" stroke-width="1.1" stroke-dasharray="1.6 0.6"/>
<path d="M398.1 430.6 V517.4 M398.1 514.4 H484.8" fill="none" stroke="#111" stroke-width="1.5"/>
<path d="M394.9 514.4 H401.3 M394.9 497.6 H401.3 M394.9 480.9 H401.3 M394.9 464.1 H401.3 M394.9 447.4 H401.3 M394.9 430.6 H401.3 M470.6 511.2 V517.6" fill="none" stroke="#111" stroke-width="1.4"/>
<text x="392.5" y="522.4" text-anchor="end" fill="#1a1a1a" stroke="#1a1a1a" stroke-width="0.12" style="font-size:10px;letter-spacing:0.6px;font-family:'Liberation Sans',sans-serif">0.0</text>
<text x="392.5" y="505.6" text-anchor="end" fill="#1a1a1a" stroke="#1a1a1a" stroke-width="0.12" style="font-size:10px;letter-spacing:0.6px;font-family:'Liberation Sans',sans-serif">0.2</text>
<text x="392.5" y="488.9" text-anchor="end" fill="#1a1a1a" stroke="#1a1a1a" stroke-width="0.12" style="font-size:10px;letter-spacing:0.6px;font-family:'Liberation Sans',sans-serif">0.4</text>
<text x="392.5" y="472.1" text-anchor="end" fill="#1a1a1a" stroke="#1a1a1a" stroke-width="0.12" style="font-size:10px;letter-spacing:0.6px;font-family:'Liberation Sans',sans-serif">0.6</text>
<text x="392.5" y="455.4" text-anchor="end" fill="#1a1a1a" stroke="#1a1a1a" stroke-width="0.12" style="font-size:10px;letter-spacing:0.6px;font-family:'Liberation Sans',sans-serif">0.8</text>
<text x="392.5" y="438.6" text-anchor="end" fill="#1a1a1a" stroke="#1a1a1a" stroke-width="0.12" style="font-size:10px;letter-spacing:0.6px;font-family:'Liberation Sans',sans-serif">1.0</text>
<text x="398.4" y="536.0" text-anchor="middle" fill="#1a1a1a" stroke="#1a1a1a" stroke-width="0.12" style="font-size:10.6px;letter-spacing:0.6px;font-family:'Liberation Sans',sans-serif">0</text>
<text x="470.9" y="536.0" text-anchor="middle" fill="#1a1a1a" stroke="#1a1a1a" stroke-width="0.12" style="font-size:10.6px;letter-spacing:0.6px;font-family:'Liberation Sans',sans-serif">50</text>
<path d="M398.6,479.7 L405.1,438.7 L410.7,430.3 L414.5,432.1 L421,462 L426.6,474.1 L434,508.6 L441.1,498.4 L448,514.2 L456.4,509.6 L463,513.3 L469.5,511.4" fill="none" stroke="#3ee83e" stroke-width="2.8" stroke-linejoin="round"/>
<rect x="394.8" y="475.9" width="7.6" height="7.6" fill="#1ef01e"/>
<rect x="401.3" y="434.9" width="7.6" height="7.6" fill="#1ef01e"/>
<rect x="406.9" y="426.5" width="7.6" height="7.6" fill="#1ef01e"/>
<rect x="410.7" y="428.3" width="7.6" height="7.6" fill="#1ef01e"/>
<rect x="417.2" y="458.2" width="7.6" height="7.6" fill="#1ef01e"/>
<rect x="422.8" y="470.3" width="7.6" height="7.6" fill="#1ef01e"/>
<rect x="430.2" y="504.8" width="7.6" height="7.6" fill="#1ef01e"/>
<rect x="437.3" y="494.6" width="7.6" height="7.6" fill="#1ef01e"/>
<rect x="444.2" y="510.4" width="7.6" height="7.6" fill="#1ef01e"/>
<rect x="452.6" y="505.8" width="7.6" height="7.6" fill="#1ef01e"/>
<rect x="459.2" y="509.5" width="7.6" height="7.6" fill="#1ef01e"/>
<rect x="465.7" y="507.6" width="7.6" height="7.6" fill="#1ef01e"/>
<rect x="450.3" y="459.6" width="25.5" height="9.5" fill="#1a2aa6" stroke="#0a1066" stroke-width="1.1"/>
<rect x="452.8" y="462.2" width="20.5" height="4.3" fill="#3a55dd" opacity="0.45"/>
<rect x="21.0" y="600.1" width="138.7" height="137.9" fill="none" stroke="#111" stroke-width="1.6"/>
<path d="M52.9 619.6 H141.8 V704.5" fill="none" stroke="#5c5c5c" stroke-width="1.1" stroke-dasharray="1.6 0.6"/>
<path d="M52.9 619.6 V707.5 M52.9 704.5 H141.8" fill="none" stroke="#111" stroke-width="1.5"/>
<path d="M49.7 704.5 H56.1 M49.7 687.5 H56.1 M49.7 670.5 H56.1 M49.7 653.6 H56.1 M49.7 636.6 H56.1 M49.7 619.6 H56.1 M127.3 701.3 V707.7" fill="none" stroke="#111" stroke-width="1.4"/>
<text x="47.9" y="712.4" text-anchor="end" fill="#1a1a1a" stroke="#1a1a1a" stroke-width="0.12" style="font-size:10px;letter-spacing:0.6px;font-family:'Liberation Sans',sans-serif">0.0</text>
<text x="47.9" y="695.4" text-anchor="end" fill="#1a1a1a" stroke="#1a1a1a" stroke-width="0.12" style="font-size:10px;letter-spacing:0.6px;font-family:'Liberation Sans',sans-serif">0.2</text>
<text x="47.9" y="678.4" text-anchor="end" fill="#1a1a1a" stroke="#1a1a1a" stroke-width="0.12" style="font-size:10px;letter-spacing:0.6px;font-family:'Liberation Sans',sans-serif">0.4</text>
<text x="47.9" y="661.5" text-anchor="end" fill="#1a1a1a" stroke="#1a1a1a" stroke-width="0.12" style="font-size:10px;letter-spacing:0.6px;font-family:'Liberation Sans',sans-serif">0.6</text>
<text x="47.9" y="644.5" text-anchor="end" fill="#1a1a1a" stroke="#1a1a1a" stroke-width="0.12" style="font-size:10px;letter-spacing:0.6px;font-family:'Liberation Sans',sans-serif">0.8</text>
<text x="47.9" y="627.5" text-anchor="end" fill="#1a1a1a" stroke="#1a1a1a" stroke-width="0.12" style="font-size:10px;letter-spacing:0.6px;font-family:'Liberation Sans',sans-serif">1.0</text>
<text x="53.2" y="725.7" text-anchor="middle" fill="#1a1a1a" stroke="#1a1a1a" stroke-width="0.12" style="font-size:10.6px;letter-spacing:0.6px;font-family:'Liberation Sans',sans-serif">0</text>
<text x="127.6" y="725.1" text-anchor="middle" fill="#1a1a1a" stroke="#1a1a1a" stroke-width="0.12" style="font-size:10.6px;letter-spacing:0.6px;font-family:'Liberation Sans',sans-serif">50</text>
<path d="M53.6,704.4 L61.1,703.1 L68.1,704.4 L75,704.4 L82,704.4 L89,704.4 L96,702 L101.2,696.4 L105.8,693.2 L111.4,688.2 L119.8,690.1 L127.3,689.5" fill="none" stroke="#d81212" stroke-width="2.8" stroke-linejoin="round"/>
<path d="M49.5 704.4 L53.6 700.3 L57.7 704.4 L53.6 708.5Z" fill="#f01414"/>
<path d="M57.0 703.1 L61.1 699.0 L65.2 703.1 L61.1 707.2Z" fill="#f01414"/>
<path d="M64.0 704.4 L68.1 700.3 L72.2 704.4 L68.1 708.5Z" fill="#f01414"/>
<path d="M70.9 704.4 L75 700.3 L79.1 704.4 L75 708.5Z" fill="#f01414"/>
<path d="M77.9 704.4 L82 700.3 L86.1 704.4 L82 708.5Z" fill="#f01414"/>
<path d="M84.9 704.4 L89 700.3 L93.1 704.4 L89 708.5Z" fill="#f01414"/>
<path d="M91.9 702 L96 697.9 L100.1 702 L96 706.1Z" fill="#f01414"/>
<path d="M97.1 696.4 L101.2 692.3 L105.3 696.4 L101.2 700.5Z" fill="#f01414"/>
<path d="M101.7 693.2 L105.8 689.1 L109.9 693.2 L105.8 697.3Z" fill="#f01414"/>
<path d="M107.3 688.2 L111.4 684.1 L115.5 688.2 L111.4 692.3Z" fill="#f01414"/>
<path d="M115.7 690.1 L119.8 686.0 L123.9 690.1 L119.8 694.2Z" fill="#f01414"/>
<path d="M123.2 689.5 L127.3 685.4 L131.4 689.5 L127.3 693.6Z" fill="#f01414"/>
<path d="M53.6,676.5 L58.3,669.9 L62.9,669 L69.5,695.1 L75,703.5 L81.5,704 L88,704 L95,704 L102,704 L109,704 L116,704 L123,704 L128.5,704" fill="none" stroke="#3ee83e" stroke-width="2.8" stroke-linejoin="round"/>
<rect x="49.8" y="672.7" width="7.6" height="7.6" fill="#1ef01e"/>
<rect x="54.5" y="666.1" width="7.6" height="7.6" fill="#1ef01e"/>
<rect x="59.1" y="665.2" width="7.6" height="7.6" fill="#1ef01e"/>
<rect x="65.7" y="691.3" width="7.6" height="7.6" fill="#1ef01e"/>
<rect x="71.2" y="699.7" width="7.6" height="7.6" fill="#1ef01e"/>
<rect x="77.7" y="700.2" width="7.6" height="7.6" fill="#1ef01e"/>
<rect x="84.2" y="700.2" width="7.6" height="7.6" fill="#1ef01e"/>
<rect x="91.2" y="700.2" width="7.6" height="7.6" fill="#1ef01e"/>
<rect x="98.2" y="700.2" width="7.6" height="7.6" fill="#1ef01e"/>
<rect x="105.2" y="700.2" width="7.6" height="7.6" fill="#1ef01e"/>
<rect x="112.2" y="700.2" width="7.6" height="7.6" fill="#1ef01e"/>
<rect x="119.2" y="700.2" width="7.6" height="7.6" fill="#1ef01e"/>
<rect x="124.7" y="700.2" width="7.6" height="7.6" fill="#1ef01e"/>
<rect x="108.2" y="649.0" width="25.1" height="9.1" fill="#1a2aa6" stroke="#0a1066" stroke-width="1.1"/>
<rect x="110.7" y="651.6" width="20.1" height="3.9" fill="#3a55dd" opacity="0.45"/>
<rect x="192.0" y="600.5" width="139.4" height="137.5" fill="none" stroke="#111" stroke-width="1.6"/>
<path d="M226.9 619.8 H312.6 V703.5" fill="none" stroke="#5c5c5c" stroke-width="1.1" stroke-dasharray="1.6 0.6"/>
<path d="M226.9 619.8 V706.5 M226.9 703.5 H312.6" fill="none" stroke="#111" stroke-width="1.5"/>
<path d="M223.7 703.5 H230.1 M223.7 686.8 H230.1 M223.7 670.0 H230.1 M223.7 653.3 H230.1 M223.7 636.5 H230.1 M223.7 619.8 H230.1 M300.0 700.3 V706.7" fill="none" stroke="#111" stroke-width="1.4"/>
<text x="221.2" y="711.9" text-anchor="end" fill="#1a1a1a" stroke="#1a1a1a" stroke-width="0.12" style="font-size:10px;letter-spacing:0.6px;font-family:'Liberation Sans',sans-serif">0.0</text>
<text x="221.2" y="695.2" text-anchor="end" fill="#1a1a1a" stroke="#1a1a1a" stroke-width="0.12" style="font-size:10px;letter-spacing:0.6px;font-family:'Liberation Sans',sans-serif">0.2</text>
<text x="221.2" y="678.4" text-anchor="end" fill="#1a1a1a" stroke="#1a1a1a" stroke-width="0.12" style="font-size:10px;letter-spacing:0.6px;font-family:'Liberation Sans',sans-serif">0.4</text>
<text x="221.2" y="661.7" text-anchor="end" fill="#1a1a1a" stroke="#1a1a1a" stroke-width="0.12" style="font-size:10px;letter-spacing:0.6px;font-family:'Liberation Sans',sans-serif">0.6</text>
<text x="221.2" y="644.9" text-anchor="end" fill="#1a1a1a" stroke="#1a1a1a" stroke-width="0.12" style="font-size:10px;letter-spacing:0.6px;font-family:'Liberation Sans',sans-serif">0.8</text>
<text x="221.2" y="628.2" text-anchor="end" fill="#1a1a1a" stroke="#1a1a1a" stroke-width="0.12" style="font-size:10px;letter-spacing:0.6px;font-family:'Liberation Sans',sans-serif">1.0</text>
<text x="225.9" y="724.8" text-anchor="middle" fill="#1a1a1a" stroke="#1a1a1a" stroke-width="0.12" style="font-size:10.6px;letter-spacing:0.6px;font-family:'Liberation Sans',sans-serif">0</text>
<text x="300.3" y="725.1" text-anchor="middle" fill="#1a1a1a" stroke="#1a1a1a" stroke-width="0.12" style="font-size:10.6px;letter-spacing:0.6px;font-family:'Liberation Sans',sans-serif">50</text>
<path d="M226.7,704.4 L232.3,697.8 L241.6,668.9 L247.2,688.5 L250,692.2 L255.6,696.9 L262.1,698.2 L269.6,704.4 L276.1,698.2 L283.6,694.1 L290.1,696.9 L296.6,699.7 L302.2,703.4 L308,704.4 L311.6,704.4" fill="none" stroke="#3ee83e" stroke-width="2.8" stroke-linejoin="round"/>
<rect x="222.9" y="700.6" width="7.6" height="7.6" fill="#1ef01e"/>
<rect x="228.5" y="694.0" width="7.6" height="7.6" fill="#1ef01e"/>
<rect x="237.8" y="665.1" width="7.6" height="7.6" fill="#1ef01e"/>
<rect x="243.4" y="684.7" width="7.6" height="7.6" fill="#1ef01e"/>
<rect x="246.2" y="688.4" width="7.6" height="7.6" fill="#1ef01e"/>
<rect x="251.8" y="693.1" width="7.6" height="7.6" fill="#1ef01e"/>
<rect x="258.3" y="694.4" width="7.6" height="7.6" fill="#1ef01e"/>
<rect x="265.8" y="700.6" width="7.6" height="7.6" fill="#1ef01e"/>
<rect x="272.3" y="694.4" width="7.6" height="7.6" fill="#1ef01e"/>
<rect x="279.8" y="690.3" width="7.6" height="7.6" fill="#1ef01e"/>
<rect x="286.3" y="693.1" width="7.6" height="7.6" fill="#1ef01e"/>
<rect x="292.8" y="695.9" width="7.6" height="7.6" fill="#1ef01e"/>
<rect x="298.4" y="699.6" width="7.6" height="7.6" fill="#1ef01e"/>
<rect x="304.2" y="700.6" width="7.6" height="7.6" fill="#1ef01e"/>
<rect x="307.8" y="700.6" width="7.6" height="7.6" fill="#1ef01e"/>
<path d="M232.3,703.4 L240.7,703 L247.5,697.9" fill="none" stroke="#d81212" stroke-width="2.8" stroke-linejoin="round"/>
<path d="M228.2 703.4 L232.3 699.3 L236.4 703.4 L232.3 707.5Z" fill="#f01414"/>
<path d="M236.6 703 L240.7 698.9 L244.8 703 L240.7 707.1Z" fill="#f01414"/>
<path d="M243.4 697.9 L247.5 693.8 L251.6 697.9 L247.5 702.0Z" fill="#f01414"/>
<path d="M247.5,697.9 L255,694.2 L262.4,690.6 L269.6,675.5 L275.4,653.1 L281.8,629.3 L290.5,617 L297.7,624.3 L305,648.8 L306.4,674.8 L307.8,700" fill="none" stroke="#d81212" stroke-width="3.3" stroke-linejoin="round" stroke-dasharray="10 4"/>
<path d="M243.4 697.9 L247.5 693.8 L251.6 697.9 L247.5 702.0Z" fill="#f01414"/>
<path d="M250.9 694.2 L255 690.1 L259.1 694.2 L255 698.3Z" fill="#f01414"/>
<path d="M258.3 690.6 L262.4 686.5 L266.5 690.6 L262.4 694.7Z" fill="#f01414"/>
<path d="M265.5 675.5 L269.6 671.4 L273.7 675.5 L269.6 679.6Z" fill="#f01414"/>
<path d="M271.3 653.1 L275.4 649.0 L279.5 653.1 L275.4 657.2Z" fill="#f01414"/>
<path d="M277.7 629.3 L281.8 625.2 L285.9 629.3 L281.8 633.4Z" fill="#f01414"/>
<path d="M286.4 617 L290.5 612.9 L294.6 617 L290.5 621.1Z" fill="#f01414"/>
<path d="M293.6 624.3 L297.7 620.2 L301.8 624.3 L297.7 628.4Z" fill="#f01414"/>
<path d="M300.9 648.8 L305 644.7 L309.1 648.8 L305 652.9Z" fill="#f01414"/>
<path d="M302.3 674.8 L306.4 670.7 L310.5 674.8 L306.4 678.9Z" fill="#f01414"/>
<path d="M303.7 700 L307.8 695.9 L311.9 700 L307.8 704.1Z" fill="#f01414"/>
<rect x="279.7" y="650.5" width="21.7" height="7.6" fill="#1a2aa6" stroke="#0a1066" stroke-width="1.1"/>
<rect x="282.2" y="653.1" width="16.7" height="2.4" fill="#3a55dd" opacity="0.45"/>
<rect x="364.7" y="600.3" width="139.7" height="137.6" fill="none" stroke="#111" stroke-width="1.6"/>
<path d="M398.8 619.8 H486.5 V704.5" fill="none" stroke="#5c5c5c" stroke-width="1.1" stroke-dasharray="1.6 0.6"/>
<path d="M398.8 619.8 V707.5 M398.8 704.5 H486.5" fill="none" stroke="#111" stroke-width="1.5"/>
<path d="M395.6 704.5 H402.0 M395.6 687.6 H402.0 M395.6 670.6 H402.0 M395.6 653.7 H402.0 M395.6 636.7 H402.0 M395.6 619.8 H402.0 M471.3 701.3 V707.7" fill="none" stroke="#111" stroke-width="1.4"/>
<text x="392.9" y="711.2" text-anchor="end" fill="#1a1a1a" stroke="#1a1a1a" stroke-width="0.12" style="font-size:10px;letter-spacing:0.6px;font-family:'Liberation Sans',sans-serif">0.0</text>
<text x="392.9" y="694.3" text-anchor="end" fill="#1a1a1a" stroke="#1a1a1a" stroke-width="0.12" style="font-size:10px;letter-spacing:0.6px;font-family:'Liberation Sans',sans-serif">0.2</text>
<text x="392.9" y="677.3" text-anchor="end" fill="#1a1a1a" stroke="#1a1a1a" stroke-width="0.12" style="font-size:10px;letter-spacing:0.6px;font-family:'Liberation Sans',sans-serif">0.4</text>
<text x="392.9" y="660.4" text-anchor="end" fill="#1a1a1a" stroke="#1a1a1a" stroke-width="0.12" style="font-size:10px;letter-spacing:0.6px;font-family:'Liberation Sans',sans-serif">0.6</text>
<text x="392.9" y="643.4" text-anchor="end" fill="#1a1a1a" stroke="#1a1a1a" stroke-width="0.12" style="font-size:10px;letter-spacing:0.6px;font-family:'Liberation Sans',sans-serif">0.8</text>
<text x="392.9" y="626.5" text-anchor="end" fill="#1a1a1a" stroke="#1a1a1a" stroke-width="0.12" style="font-size:10px;letter-spacing:0.6px;font-family:'Liberation Sans',sans-serif">1.0</text>
<text x="399.1" y="725.1" text-anchor="middle" fill="#1a1a1a" stroke="#1a1a1a" stroke-width="0.12" style="font-size:10.6px;letter-spacing:0.6px;font-family:'Liberation Sans',sans-serif">0</text>
<text x="471.6" y="725.1" text-anchor="middle" fill="#1a1a1a" stroke="#1a1a1a" stroke-width="0.12" style="font-size:10.6px;letter-spacing:0.6px;font-family:'Liberation Sans',sans-serif">50</text>
<path d="M398.6,703.9 L406.1,704.4 L413,704.4 L420,704.4 L427,704.4 L434,704.4 L441,704.4 L448,704 L456,700 L463.9,694.6 L471.4,694.2" fill="none" stroke="#d81212" stroke-width="2.8" stroke-linejoin="round"/>
<path d="M394.5 703.9 L398.6 699.8 L402.7 703.9 L398.6 708.0Z" fill="#f01414"/>
<path d="M402.0 704.4 L406.1 700.3 L410.2 704.4 L406.1 708.5Z" fill="#f01414"/>
<path d="M408.9 704.4 L413 700.3 L417.1 704.4 L413 708.5Z" fill="#f01414"/>
<path d="M415.9 704.4 L420 700.3 L424.1 704.4 L420 708.5Z" fill="#f01414"/>
<path d="M422.9 704.4 L427 700.3 L431.1 704.4 L427 708.5Z" fill="#f01414"/>
<path d="M429.9 704.4 L434 700.3 L438.1 704.4 L434 708.5Z" fill="#f01414"/>
<path d="M436.9 704.4 L441 700.3 L445.1 704.4 L441 708.5Z" fill="#f01414"/>
<path d="M443.9 704 L448 699.9 L452.1 704 L448 708.1Z" fill="#f01414"/>
<path d="M451.9 700 L456 695.9 L460.1 700 L456 704.1Z" fill="#f01414"/>
<path d="M459.8 694.6 L463.9 690.5 L468.0 694.6 L463.9 698.7Z" fill="#f01414"/>
<path d="M467.3 694.2 L471.4 690.1 L475.5 694.2 L471.4 698.3Z" fill="#f01414"/>
<path d="M398.6,692.3 L404.2,675.5 L408.9,675.5 L414.5,676.5 L421,686.7 L427.5,695.1 L435,698.3 L441.5,700.7 L449,701.6 L456.4,700.7 L463.9,702 L471.4,702.6" fill="none" stroke="#3ee83e" stroke-width="2.8" stroke-linejoin="round"/>
<rect x="394.8" y="688.5" width="7.6" height="7.6" fill="#1ef01e"/>
<rect x="400.4" y="671.7" width="7.6" height="7.6" fill="#1ef01e"/>
<rect x="405.1" y="671.7" width="7.6" height="7.6" fill="#1ef01e"/>
<rect x="410.7" y="672.7" width="7.6" height="7.6" fill="#1ef01e"/>
<rect x="417.2" y="682.9" width="7.6" height="7.6" fill="#1ef01e"/>
<rect x="423.7" y="691.3" width="7.6" height="7.6" fill="#1ef01e"/>
<rect x="431.2" y="694.5" width="7.6" height="7.6" fill="#1ef01e"/>
<rect x="437.7" y="696.9" width="7.6" height="7.6" fill="#1ef01e"/>
<rect x="445.2" y="697.8" width="7.6" height="7.6" fill="#1ef01e"/>
<rect x="452.6" y="696.9" width="7.6" height="7.6" fill="#1ef01e"/>
<rect x="460.1" y="698.2" width="7.6" height="7.6" fill="#1ef01e"/>
<rect x="467.6" y="698.8" width="7.6" height="7.6" fill="#1ef01e"/>
<rect x="450.9" y="649.1" width="25.5" height="9.0" fill="#1a2aa6" stroke="#0a1066" stroke-width="1.1"/>
<rect x="453.4" y="651.7" width="20.5" height="3.8" fill="#3a55dd" opacity="0.45"/>
</svg></body></html>
